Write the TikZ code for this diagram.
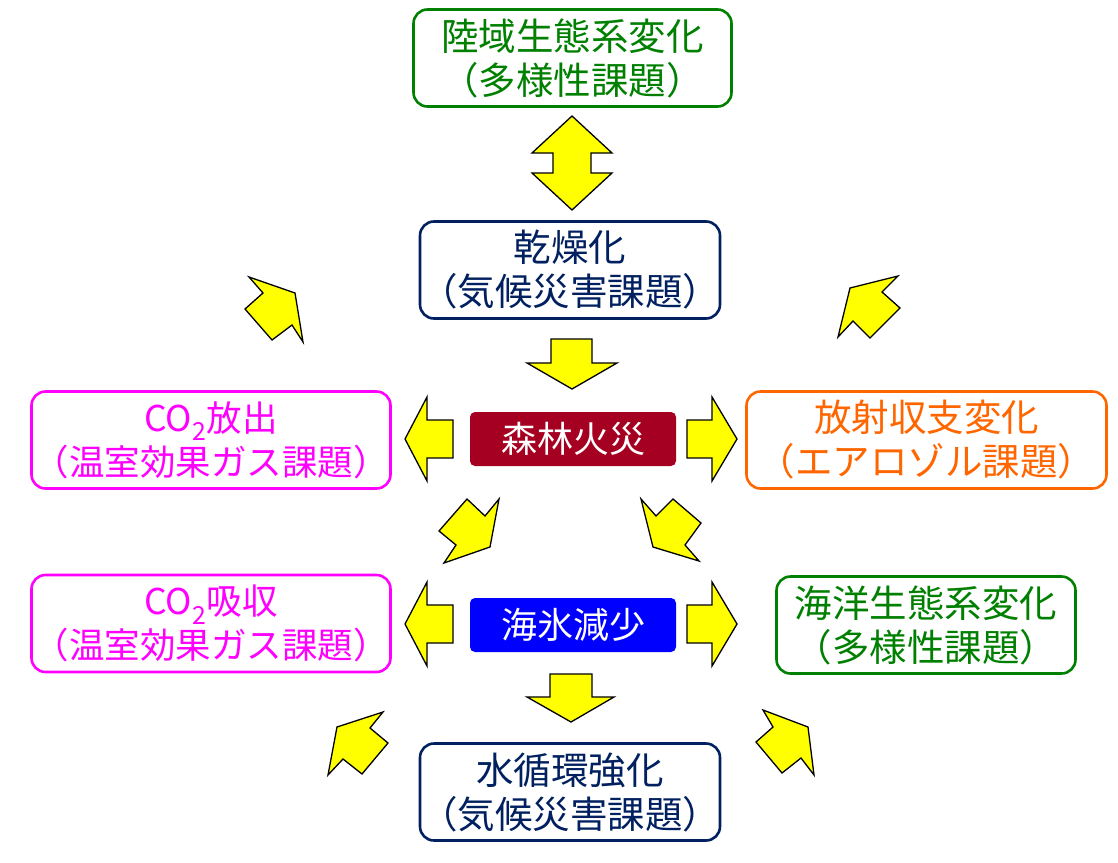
\documentclass[tikz,border=0pt]{standalone}
\usepackage{fontspec}
\setmainfont{Noto Sans CJK JP}
\usepackage{xcolor}
\usepackage{tikz}
\usetikzlibrary{positioning}

\definecolor{landgreen}{RGB}{0,128,0}
\definecolor{navy}{RGB}{0,32,96}
\definecolor{ghgmagenta}{RGB}{255,0,255}
\definecolor{aeroorange}{RGB}{255,102,0}
\definecolor{firered}{RGB}{165,0,33}
\definecolor{iceblue}{RGB}{0,0,255}
\definecolor{arrowyellow}{RGB}{255,255,0}

\tikzset{
  issue/.style={draw=#1, text=#1, line width=2.6pt, rounded corners=14pt, fill=white,
    align=center, inner sep=0pt, minimum height=97pt, font=\fontsize{37.5}{44}\selectfont},
  ghgissue/.style={issue=ghgmagenta, minimum width=359pt, font=\fontsize{35.5}{44}\selectfont},
  event/.style={fill=#1, text=white, rounded corners=5pt, minimum width=206pt,
    minimum height=54pt, inner sep=0pt, font=\fontsize{36}{40}\selectfont},
  bigarrow/.style={fill=arrowyellow, draw=black, line width=1.3pt, line join=miter},
}

\begin{document}
\begin{tikzpicture}[x=1pt,y=-1pt]
                \useasboundingbox (0,0) rectangle (1118,862);
                % issue boxes
                \node[issue=landgreen, minimum width=318pt] (land) at (572.5,58) {陸域生態系変化\\（多様性課題）};
                \node[issue=navy, minimum width=297pt] (dry) at (570,270) {乾燥化\\（気候災害課題）};
                \node[ghgissue] (emit) at (211,440) {CO\textsubscript{2}放出\\（温室効果ガス課題）};
                \node[issue=aeroorange, minimum width=360pt] (rad) at (926.5,440) {放射収支変化\\（エアロゾル課題）};
                \node[ghgissue] (absorb) at (211,623.5) {CO\textsubscript{2}吸収\\（温室効果ガス課題）};
                \node[issue=landgreen, minimum width=299pt] (ocean) at (926,625) {海洋生態系変化\\（多様性課題）};
                \node[issue=navy, minimum width=297pt] (water) at (570,792) {水循環強化\\（気候災害課題）};
                % events
                \node[event=firered] (fire) at (573,439) {森林火災};
                \node[event=iceblue] (ice) at (573,625) {海氷減少};
                % yellow block arrows
                \draw[bigarrow] (572,116) -- (612,153) -- (591,153) -- (591,173) -- (612,173) -- (572,210)
                  -- (532,173) -- (553,173) -- (553,153) -- (532,153) -- cycle;
                \draw[bigarrow] (551,339) -- (592,339) -- (592,363) -- (617,363) -- (572,389) -- (527,363) -- (551,363) -- cycle;
                \draw[bigarrow] (550,674) -- (592,674) -- (592,697) -- (614,697) -- (571,722) -- (527,697) -- (550,697) -- cycle;
                \draw[bigarrow] (453,420) -- (427,420) -- (427,397) -- (405,439) -- (427,481) -- (427,458) -- (453,458) -- cycle;
                \draw[bigarrow] (687,420) -- (712,420) -- (712,397) -- (737,439) -- (712,481) -- (712,458) -- (687,458) -- cycle;
                \draw[bigarrow] (453,605) -- (427,605) -- (427,582) -- (405,624) -- (427,666) -- (427,643) -- (453,643) -- cycle;
                \draw[bigarrow] (687,605) -- (712,605) -- (712,582) -- (737,624) -- (712,666) -- (712,643) -- (687,643) -- cycle;
                % diagonal ones
                \draw[bigarrow] (249,277) -- (295,293) -- (303,342) -- (292,325) -- (272,340) -- (245,309) -- (263,293) -- cycle;
                \draw[bigarrow] (898,276) -- (882,292) -- (900,308) -- (870,338) -- (853,321) -- (838,337) -- (850,288) -- cycle;
                \draw[bigarrow] (467,499) -- (485,516) -- (499,499) -- (490,547) -- (444,563) -- (456,545) -- (439,531) -- cycle;
                \draw[bigarrow] (641,499) -- (656,516) -- (673,499) -- (701,523) -- (685,545) -- (699,561) -- (653,547) -- cycle;
                \draw[bigarrow] (383,712) -- (370,728) -- (388,743) -- (362,774) -- (343,759) -- (328,775) -- (337,727) -- cycle;
                \draw[bigarrow] (763,710) -- (808,727) -- (814,775) -- (801,758) -- (782,773) -- (756,742) -- (773,727) -- cycle;
            \end{tikzpicture}
\end{document}
